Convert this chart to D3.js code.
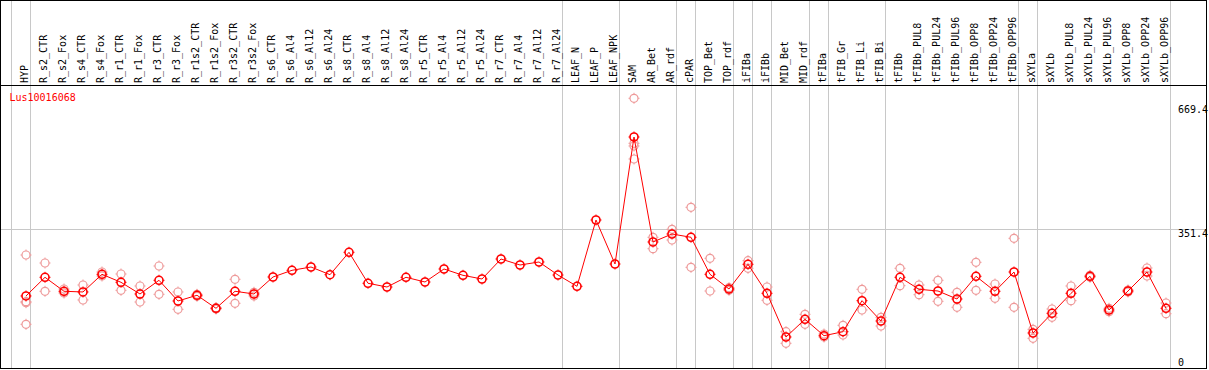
<!DOCTYPE html>
<html>
<head>
<meta charset="utf-8">
<script src="https://cdn.jsdelivr.net/npm/d3@7"></script>
<style>
  body { margin: 0; background: #fff; }
  svg { display: block; }
  text { font-family: "DejaVu Sans Mono", "Liberation Mono", monospace; }
</style>
</head>
<body>
<svg id="chart" width="1209" height="370"></svg>
<script>
const gene = "Lus10016068";

const samples = [
  "HYP", "R_s2_CTR", "R_s2_Fox", "R_s4_CTR", "R_s4_Fox", "R_r1_CTR", "R_r1_Fox",
  "R_r3_CTR", "R_r3_Fox", "R_r1s2_CTR", "R_r1s2_Fox", "R_r3s2_CTR", "R_r3s2_Fox",
  "R_s6_CTR", "R_s6_Al4", "R_s6_Al12", "R_s6_Al24", "R_s8_CTR", "R_s8_Al4",
  "R_s8_Al12", "R_s8_Al24", "R_r5_CTR", "R_r5_Al4", "R_r5_Al12", "R_r5_Al24",
  "R_r7_CTR", "R_r7_Al4", "R_r7_Al12", "R_r7_Al24", "LEAF_N", "LEAF_P", "LEAF_NPK",
  "SAM", "AR_Bet", "AR_rdf", "cPAR", "TOP_Bet", "TOP_rdf", "iFIBa", "iFIBb",
  "MID_Bet", "MID_rdf", "tFIBa", "tFIB_Gr", "tFIB_Li", "tFIB_Bi", "tFIBb",
  "tFIBb_PUL8", "tFIBb_PUL24", "tFIBb_PUL96", "tFIBb_OPP8", "tFIBb_OPP24", "tFIBb_OPP96",
  "sXYLa", "sXYLb", "sXYLb_PUL8", "sXYLb_PUL24", "sXYLb_PUL96", "sXYLb_OPP8",
  "sXYLb_OPP24", "sXYLb_OPP96"
];

const means = [
  177.7, 225.8, 189.8, 188.0, 233.5, 212.9, 182.8, 218.1, 164.8, 179.5, 146.0, 189.8, 182.8,
  226.6, 243.8, 252.3, 232.5, 290.2, 210.4, 200.8, 225.8, 213.7, 247.2, 230.9, 221.4,
  272.9, 257.5, 265.2, 231.7, 202.6, 373.3, 260.0,
  587.0, 316.7, 337.3, 328.8, 233.5, 195.7, 259.3, 184.6,
  72.1, 117.7, 75.4, 85.7, 165.6, 113.3, 225.8,
  194.9, 190.5, 169.9, 228.4, 189.8, 239.4,
  82.4, 133.1, 184.6, 228.4, 141.6, 190.5, 239.4, 146.0
];

const replicates = [
  [283.2, 163.0, 160.4, 104.8], [262.6, 189.8], [195.7, 185.4], [206.0, 167.4],
  [239.4, 229.1], [234.3, 192.3], [203.4, 162.2], [254.9, 182.0], [188.0, 143.4],
  [182.0, 176.9], [147.5, 144.2], [220.7, 158.9], [187.2, 177.7],
  [], [], [], [], [], [], [], [], [], [], [], [], [], [], [], [], [], [], [],
  [686.7, 570.8, 563.9, 530.4], [328.8, 299.4], [349.4, 321.8], [406.0, 251.5],
  [274.7, 190.5], [199.0, 192.3], [268.5, 249.0], [200.8, 166.6],
  [85.7, 55.9], [130.5, 104.8], [79.8, 72.1], [102.2, 77.2], [194.9, 141.6],
  [122.8, 100.4], [249.0, 204.2],
  [206.0, 181.0], [218.1, 164.0], [187.2, 148.6], [264.4, 192.3], [208.5, 171.7],
  [326.2, 148.6],
  [91.9, 68.7], [144.2, 122.8], [203.4, 165.6], [230.9, 225.8], [146.0, 137.2],
  [193.1, 187.9], [249.7, 229.1], [159.6, 132.1]
];

// group separators: drawn before these samples (and at the right end)
const groupStarts = ["HYP", "R_s2_CTR", "LEAF_N", "SAM", "cPAR", "TOP_Bet", "iFIBa",
  "iFIBb", "MID_Bet", "tFIBa", "tFIB_Gr", "tFIBb", "sXYLa", "sXYLb"];

const yTicks = [0, 351.4, 669.4];
const yGrid = [351.4];

const width = 1209, height = 370;
const plotTop = 85.5, plotBottom = 368.5, right = 1206.5;

const svg = d3.select("#chart");

const x = d3.scaleBand()
  .domain(samples)
  .range([11.5, 11.5 + samples.length * 19]);

const px = (s) => x(s) + 14.5;

const y = d3.scaleLinear()
  .domain([0, 669.4])
  .range([365, 105]);

// gray separators
const sepX = groupStarts.map((s) => x(s)).concat([x.range()[1]]);
svg.append("g")
  .selectAll("line")
  .data(sepX)
  .join("line")
  .attr("x1", (d) => d).attr("x2", (d) => d)
  .attr("y1", 0).attr("y2", plotBottom)
  .attr("stroke", "#c8c8c8")
  .attr("stroke-width", 1);

// horizontal gridline
svg.append("g")
  .selectAll("line")
  .data(yGrid)
  .join("line")
  .attr("x1", 0).attr("x2", right)
  .attr("y1", (d) => Math.round(y(d)) + 0.5)
  .attr("y2", (d) => Math.round(y(d)) + 0.5)
  .attr("stroke", "#c8c8c8");

// frame
svg.append("rect")
  .attr("x", 0.5).attr("y", 0.5)
  .attr("width", right - 0.5).attr("height", plotBottom - 0.5)
  .attr("fill", "none")
  .attr("stroke", "#000");
svg.append("line")
  .attr("x1", 0).attr("x2", right)
  .attr("y1", plotTop).attr("y2", plotTop)
  .attr("stroke", "#000");

// sample labels
svg.append("g")
  .selectAll("text")
  .data(samples)
  .join("text")
  .attr("transform", (d) => `translate(${px(d) + 1.5},83) rotate(-90)`)
  .attr("font-size", "10px")
  .attr("fill", "#000")
  .text((d) => d);

// y labels
svg.append("g")
  .selectAll("text")
  .data(yTicks)
  .join("text")
  .attr("x", 1178)
  .attr("y", (d) => Math.min(y(d) + 8, 366))
  .attr("font-size", "10px")
  .attr("fill", "#000")
  .text((d) => d);

// gene name
svg.append("text")
  .attr("x", 9.5).attr("y", 101)
  .attr("font-size", "10px")
  .attr("fill", "#ff0000")
  .text(gene);

function marker(g, cx, cy, color, sw) {
  g.append("circle")
    .attr("cx", cx).attr("cy", cy).attr("r", 4)
    .attr("fill", "none").attr("stroke", color).attr("stroke-width", sw);
  [[0, -1], [0, 1], [-1, 0], [1, 0]].forEach(([dx, dy]) => {
    g.append("line")
      .attr("x1", cx + dx * 4).attr("y1", cy + dy * 4)
      .attr("x2", cx + dx * 5.5).attr("y2", cy + dy * 5.5)
      .attr("stroke", color).attr("stroke-width", 1);
  });
}

// replicate points
const repG = svg.append("g");
samples.forEach((s, i) => {
  replicates[i].forEach((v) => marker(repG, px(s), y(v), "#ee9a9a", 1.2));
});

// mean line
const line = d3.line()
  .x((d, i) => px(samples[i]))
  .y((d) => y(d));

svg.append("path")
  .datum(means)
  .attr("d", line)
  .attr("fill", "none")
  .attr("stroke", "#ff0000")
  .attr("stroke-width", 1);

const meanG = svg.append("g");
samples.forEach((s, i) => marker(meanG, px(s), y(means[i]), "#ff0000", 1.6));
</script>
</body>
</html>
